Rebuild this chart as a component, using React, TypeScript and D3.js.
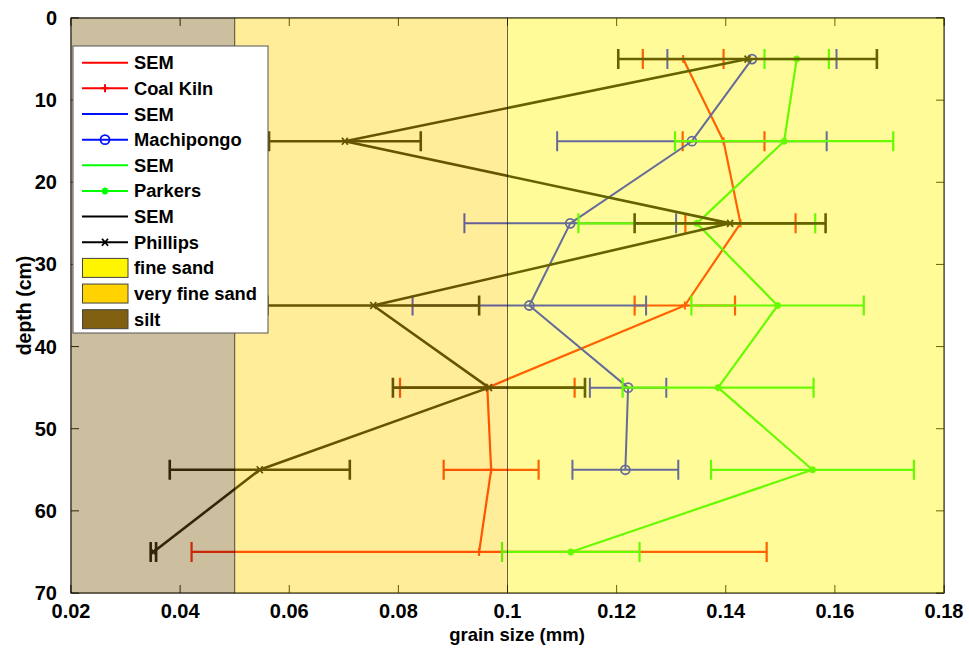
import React from "react";
import * as d3 from "d3";

const depths = [5, 15, 25, 35, 45, 55, 65];
const coalKiln = [0.1322, 0.1396, 0.1427, 0.1325, 0.0963, 0.097, 0.0948];
const coalKilnSem = [0.0074, 0.0075, 0.0101, 0.0092, 0.016, 0.0087, 0.0527];
const machipongoDepths = [5, 15, 25, 35, 45, 55];
const machipongo = [0.1448, 0.1338, 0.1115, 0.104, 0.1221, 0.1216];
const machipongoSem = [0.0155, 0.0247, 0.0194, 0.0214, 0.007, 0.0097];
const parkers = [0.153, 0.1507, 0.1347, 0.1495, 0.1386, 0.1559, 0.1116];
const parkersSem = [0.0059, 0.02, 0.0217, 0.0158, 0.0175, 0.0186, 0.0126];
const phillips = [0.144, 0.0702, 0.1408, 0.0754, 0.0966, 0.0546, 0.0351];
const phillipsSem = [0.0237, 0.0139, 0.0175, 0.0194, 0.0176, 0.0165, 0.0005];

const xTicks = [0.02, 0.04, 0.06, 0.08, 0.1, 0.12, 0.14, 0.16, 0.18];
const yTicks = [0, 10, 20, 30, 40, 50, 60, 70];

const zones = [
  { name: "fine sand", from: 0.1, to: 0.18, color: "#fff500" },
  { name: "very fine sand", from: 0.05, to: 0.1, color: "#ffd200" },
  { name: "silt", from: 0.02, to: 0.05, color: "#806010" },
];

type Series = { name: string; d: number[]; v: number[]; e: number[]; color: string; marker: string; width: number };
const series: Series[] = [
  { name: "Coal Kiln", d: depths, v: coalKiln, e: coalKilnSem, color: "#ff0000", marker: "+", width: 2.2 },
  { name: "Machipongo", d: machipongoDepths, v: machipongo, e: machipongoSem, color: "#0010ff", marker: "o", width: 2 },
  { name: "Parkers", d: depths, v: parkers, e: parkersSem, color: "#00ff00", marker: "*", width: 2.2 },
  { name: "Phillips", d: depths, v: phillips, e: phillipsSem, color: "#000000", marker: "x", width: 2.6 },
];

const L = 71, R = 944, T = 18, B = 593;
const FONT = "'Liberation Sans', Arial, Helvetica, sans-serif";

function Marker({ type, cx, cy, color }: { type: string; cx: number; cy: number; color: string }) {
  if (type === "+") return <path d={`M${cx - 4},${cy}H${cx + 4}M${cx},${cy - 4}V${cy + 4}`} stroke={color} strokeWidth={2} />;
  if (type === "o") return <circle cx={cx} cy={cy} r={4.5} fill="none" stroke={color} strokeWidth={1.8} />;
  if (type === "*")
    return (
      <g stroke={color} strokeWidth={2}>
        <path d={`M${cx - 3.5},${cy}H${cx + 3.5}M${cx},${cy - 3.5}V${cy + 3.5}M${cx - 2.5},${cy - 2.5}L${cx + 2.5},${cy + 2.5}M${cx - 2.5},${cy + 2.5}L${cx + 2.5},${cy - 2.5}`} />
      </g>
    );
  return <path d={`M${cx - 3},${cy - 3.5}L${cx + 3},${cy + 3.5}M${cx - 3},${cy + 3.5}L${cx + 3},${cy - 3.5}`} stroke={color} strokeWidth={1.8} />;
}

export default function App() {
  const x = d3.scaleLinear().domain([0.02, 0.18]).range([L, R]);
  const y = d3.scaleLinear().domain([0, 70]).range([T, B]);
  const line = d3.line<[number, number]>().x((p) => x(p[0])).y((p) => y(p[1]));
  const cap = 10;

  const legendItems: { label: string; color: string; marker?: string; patch?: string }[] = [];
  series.forEach((s) => {
    legendItems.push({ label: "SEM", color: s.color });
    legendItems.push({ label: s.name, color: s.color, marker: s.marker });
  });
  zones.forEach((z) => legendItems.push({ label: z.name, color: z.color, patch: z.color }));

  const lx = 73, ly = 46, lw = 195, lh = 287, rowH = 25.65, firstRow = 62.7;

  return (
    <svg width={969} height={653} style={{ position: "absolute", left: 0, top: 0, background: "#fff" }} fontFamily={FONT}>
      <rect x={0} y={0} width={969} height={653} fill="#fff" />
      <g stroke="#000" strokeWidth={1} fill="none">
        <rect x={L} y={T} width={R - L} height={B - T} />
        {xTicks.map((t) => (
          <path key={"xt" + t} d={`M${x(t)},${B}v-8M${x(t)},${T}v8`} />
        ))}
        {yTicks.map((t) => (
          <path key={"yt" + t} d={`M${L},${y(t)}h8M${R},${y(t)}h-8`} />
        ))}
      </g>
      {series.map((s) => (
        <g key={s.name}>
          <path d={line(s.d.map((dd, i) => [s.v[i], dd]))!} fill="none" stroke={s.color} strokeWidth={s.width} strokeLinejoin="round" />
          {s.d.map((dd, i) => {
            const x0 = x(s.v[i] - s.e[i]);
            const x1 = x(s.v[i] + s.e[i]);
            const yy = y(dd);
            return (
              <g key={i}>
                <path d={`M${x0},${yy}H${x1}M${x0},${yy - cap}V${yy + cap}M${x1},${yy - cap}V${yy + cap}`} stroke={s.color} strokeWidth={s.width} fill="none" />
                <Marker type={s.marker} cx={x(s.v[i])} cy={yy} color={s.color} />
              </g>
            );
          })}
        </g>
      ))}
      {zones.map((z) => (
        <rect key={z.name} x={x(z.from)} y={y(0)} width={x(z.to) - x(z.from)} height={y(70) - y(0)} fill={z.color} fillOpacity={0.4} stroke="#000" strokeOpacity={0.4} strokeWidth={1} />
      ))}
      <g fontWeight="bold" fill="#000">
        {xTicks.map((t) => (
          <text key={"xl" + t} x={x(t)} y={618} textAnchor="middle" fontSize={20}>
            {d3.format("")(+t.toFixed(2))}
          </text>
        ))}
        {yTicks.map((t) => (
          <text key={"yl" + t} x={57} y={y(t) + 7} textAnchor="end" fontSize={20}>
            {t}
          </text>
        ))}
        <text x={517} y={641} textAnchor="middle" fontSize={18.5}>grain size (mm)</text>
        <text transform={`translate(31,${(T + B) / 2}) rotate(-90)`} textAnchor="middle" fontSize={19.5}>depth (cm)</text>
      </g>
      <g>
        <rect x={lx} y={ly} width={lw} height={lh} fill="#fff" stroke="#555" strokeWidth={1} />
        {legendItems.map((it, i) => {
          const cy = firstRow + i * rowH;
          return (
            <g key={i}>
              {it.patch ? (
                <rect x={82.5} y={cy - 9.5} width={45.5} height={19} fill={it.patch} stroke="#444" strokeWidth={1} />
              ) : (
                <>
                  <line x1={82} x2={128} y1={cy} y2={cy} stroke={it.color} strokeWidth={2} />
                  {it.marker && <Marker type={it.marker} cx={105} cy={cy} color={it.color} />}
                </>
              )}
              <text x={134} y={cy + 6.5} fontSize={18.3} fontWeight="bold" fill="#000">
                {it.label}
              </text>
            </g>
          );
        })}
      </g>
    </svg>
  );
}
